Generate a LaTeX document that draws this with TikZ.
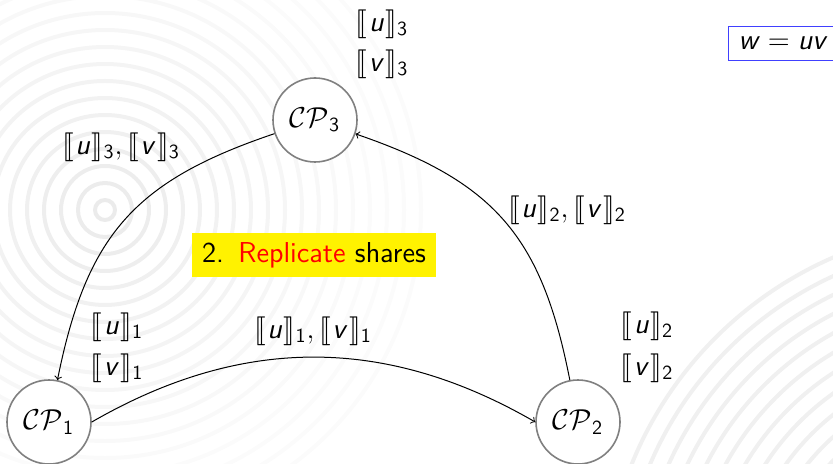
\documentclass[tikz,border=0pt]{standalone}
\usepackage{amsmath}
\usepackage{stmaryrd}
\renewcommand{\familydefault}{\sfdefault}
\newcommand{\var}[1]{\text{\itshape #1\/}}
\newcommand{\shr}[2]{\llbracket\mkern1mu\var{#1}\mkern1mu\rrbracket_{\text{#2}}}

\begin{document}
\begin{tikzpicture}[x=0.5pt, y=-0.5pt, font=\Large,
  party/.style={draw=gray, thick, circle, fill=white,
                minimum size=42pt, inner sep=0pt},
  msg/.style={->, line width=0.5pt},
  ring/.style={line width=2pt},
  stepbox/.style={fill=yellow, inner xsep=5pt, inner ysep=4.5pt},
  goalbox/.style={draw=blue!75, line width=0.5pt, inner sep=5pt}
]
  \useasboundingbox (0,0) rectangle (833,464);

  % background rings
  \begin{scope}
    \clip (0,0) rectangle (833,464);
    \foreach \r [evaluate=\r as \c using {max(1.5,8-\r/40)}] in {10,27,...,330}
      \draw[ring, black!\c] (105,210) circle (\r);
    \foreach \r in {160,177,...,390}
      \draw[ring, black!6] (985,607) circle (\r);
  \end{scope}

  \node[party] (cp1) at (49,422)  {$\mathcal{CP}_{\text{1}}$};
  \node[party] (cp2) at (578,422) {$\mathcal{CP}_{\text{2}}$};
  \node[party] (cp3) at (315,120) {$\mathcal{CP}_{\text{3}}$};

  % local shares
  \node (u3) at (382,24)  {$\shr{u}{3}$};
  \node (v3) at (382,64)  {$\shr{v}{3}$};
  \node (u1) at (117,327) {$\shr{u}{1}$};
  \node (v1) at (117,368) {$\shr{v}{1}$};
  \node (u2) at (647,326) {$\shr{u}{2}$};
  \node (v2) at (647,368) {$\shr{v}{2}$};

  % sent shares
  \node (m31) at (121,147) {$\shr{u}{3}, \shr{v}{3}$};
  \node (m12) at (313,331) {$\shr{u}{1}, \shr{v}{1}$};
  \node (m23) at (567,210) {$\shr{u}{2}, \shr{v}{2}$};

  \node[stepbox] (step) at (314,255)
        {2.\hspace{.5em}\textcolor{red}{Replicate} shares};
  \node[goalbox] (goal) at (783,43.5) {$\var{w} = \var{uv}$};

  \draw[msg, bend right=30, looseness=1.15] (cp3) to (cp1);
  \draw[msg, bend left=30] (cp1.east) to (cp2.west);
  \draw[msg, bend right=30, looseness=1.15] (cp2) to (cp3);
\end{tikzpicture}
\end{document}
